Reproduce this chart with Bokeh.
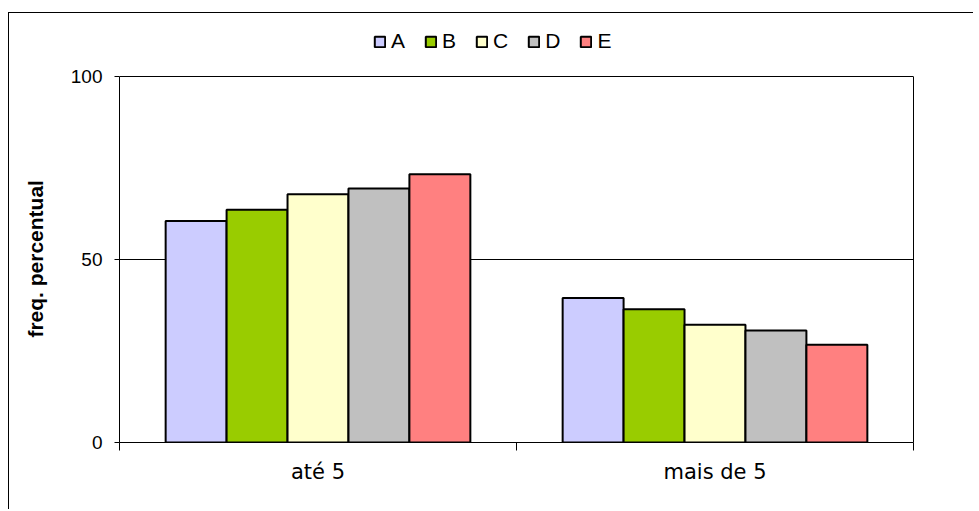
from bokeh.plotting import figure
from bokeh.models import ColumnDataSource, FixedTicker, Range1d, Legend, LegendItem, LinearAxis
from bokeh.embed import file_html
from bokeh.resources import INLINE

categories = ["até 5", "mais de 5"]
series = ["A", "B", "C", "D", "E"]
values_A = [60.5, 39.5]
values_B = [63.6, 36.4]
values_C = [67.8, 32.2]
values_D = [69.4, 30.6]
values_E = [73.3, 26.7]
all_values = [values_A, values_B, values_C, values_D, values_E]
colors = ["#CCCCFF", "#99CC00", "#FFFFCC", "#C0C0C0", "#FF8080"]
y_ticks = [0, 50, 100]
y_max = 100
y_title = "freq. percentual"

# the canvas frame extends above the value range so the legend fits inside it
frame_h = 414          # px, frame from legend area down to the zero line
plot_h = 366           # px occupied by the 0..100 value range
y_top = y_max * frame_h / plot_h

bar_w = 0.1535
centers = [i + 0.5 for i in range(len(categories))]

p = figure(
    output_backend="svg", toolbar_location=None,
    width=965, height=497,
    min_border_left=110, min_border_top=15, min_border_right=61, min_border_bottom=68,
    x_range=Range1d(0, len(categories)), y_range=Range1d(0, y_top),
    background_fill_color="white", border_fill_color="white",
    styles={"border-left": "1px solid #000", "border-top": "1px solid #000"},
    margin=(12, 0, 0, 8),
)

renderers = []
n = len(series)
for k, (name, vals, col) in enumerate(zip(series, all_values, colors)):
    off = (k - (n - 1) / 2) * bar_w
    src = ColumnDataSource(dict(x=[c + off for c in centers], top=vals))
    r = p.vbar(x="x", top="top", bottom=0, width=bar_w, source=src,
               fill_color=col, line_color="black", line_width=2)
    renderers.append((name, r))

p.outline_line_color = None

# grid: 50 line plus the top edge of the plot area at 100
p.xgrid.visible = False
p.ygrid.ticker = FixedTicker(ticks=[50, y_max])
p.ygrid.grid_line_color = "black"
p.ygrid.grid_line_width = 1

# x axis
xa = p.xaxis[0]
xa.ticker = FixedTicker(ticks=centers, minor_ticks=list(range(len(categories) + 1)))
xa.major_label_overrides = {c: lab for c, lab in zip(centers, categories)}
xa.major_tick_line_color = None
xa.major_tick_out = 0
xa.major_tick_in = 0
xa.minor_tick_out = 8
xa.minor_tick_in = 0
xa.minor_tick_line_color = "black"
xa.axis_line_color = "black"
xa.major_label_text_font = "DejaVu Sans"
xa.major_label_text_font_size = "21px"
xa.major_label_text_color = "black"
xa.major_label_standoff = 9

# y axis
ya = p.yaxis[0]
ya.bounds = (0, y_max)
ya.ticker = FixedTicker(ticks=y_ticks)
ya.major_tick_out = 5
ya.major_tick_in = 0
ya.minor_tick_line_color = None
ya.major_tick_line_color = "black"
ya.axis_line_color = "black"
ya.major_label_text_font = "Liberation Sans"
ya.major_label_text_font_size = "19px"
ya.major_label_text_color = "black"
ya.major_label_standoff = 12
# trailing no-break spaces keep the title centred on the 0..100 span
ya.axis_label = y_title + "\u00a0" * 8
ya.axis_label_text_font = "Liberation Sans"
ya.axis_label_text_font_style = "bold"
ya.axis_label_text_font_size = "21px"
ya.axis_label_text_color = "black"
ya.axis_label_standoff = 21

# right edge of the plot area
ra = LinearAxis(bounds=(0, y_max), ticker=FixedTicker(ticks=[]),
                axis_line_color="black", major_tick_line_color=None,
                minor_tick_line_color=None, major_label_text_font_size="0px")
p.add_layout(ra, "right")

legend = Legend(
    items=[LegendItem(label=nm, renderers=[r]) for nm, r in renderers],
    orientation="horizontal",
    location=(254, 389),
    padding=0, margin=0, spacing=19,
    glyph_width=13, glyph_height=13, label_standoff=5, label_width=13,
    label_text_font="Liberation Sans", label_text_font_size="21px",
    label_text_color="black", border_line_color=None,
    background_fill_alpha=0,
)
p.add_layout(legend, "center")

open("out.html", "w").write(file_html(p, INLINE))
